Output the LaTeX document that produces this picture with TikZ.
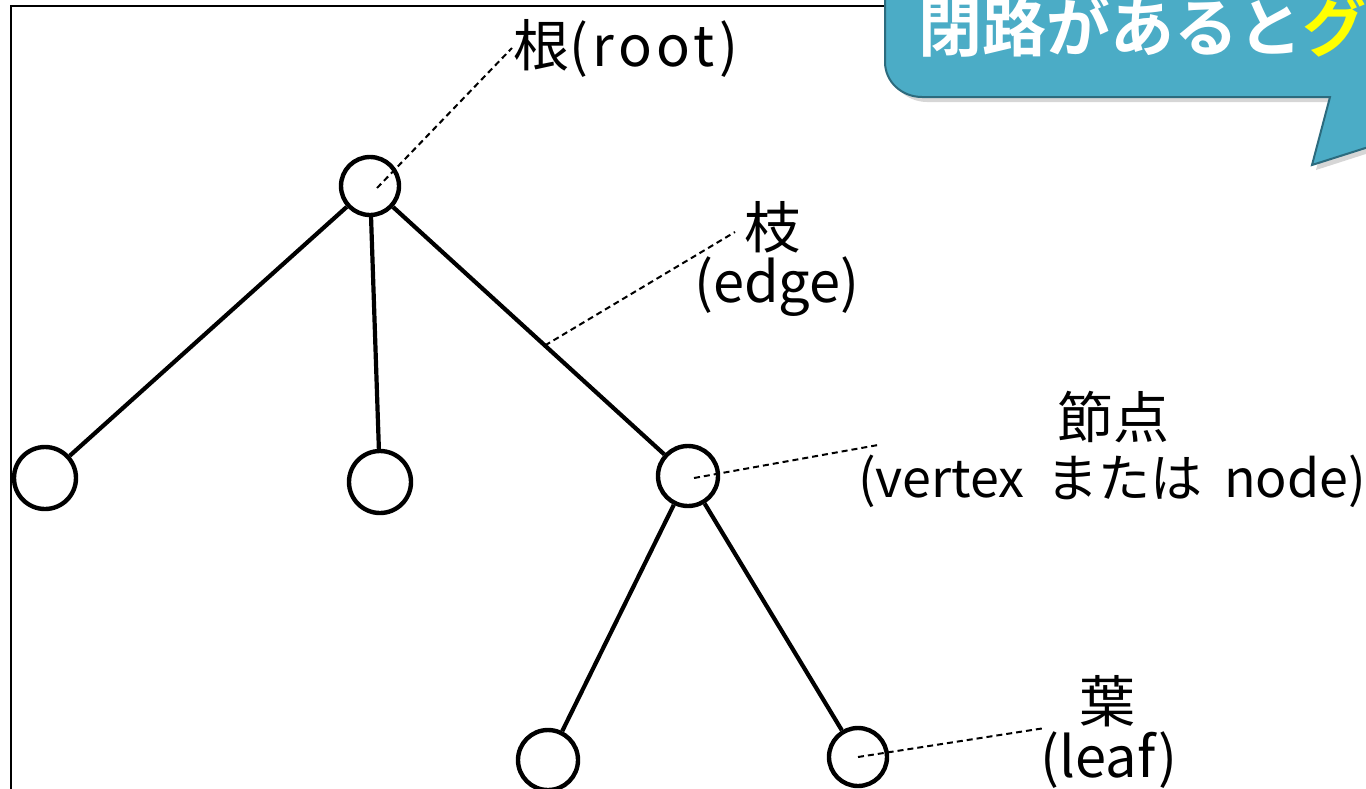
\documentclass[tikz,border=0pt]{standalone}
\usepackage{fontspec}
\setmainfont{Noto Sans CJK JP}
\newfontfamily\cjkbold{Noto Sans CJK JP Bold}
\definecolor{calloutfill}{HTML}{4BACC6}
\definecolor{calloutdraw}{HTML}{2C6B7E}
\definecolor{calloutyellow}{HTML}{FFFF00}
\begin{document}
\begin{tikzpicture}[x=1pt,y=-1pt,
  treenode/.style={circle,draw=black,line width=4.4pt,inner sep=0pt,minimum size=#1},
  treenode/.default=58pt,
  treeedge/.style={line width=4.2pt,black},
  leader/.style={line width=2pt,black,dash pattern=on 6pt off 4pt},
  labeltext/.style={inner sep=0pt,font=\fontsize{56}{60}\selectfont},
  callout/.style={fill=calloutfill,draw=calloutdraw,line width=2pt},
]
\useasboundingbox (0,0) rectangle (1366,788);
% frame
\draw[line width=2.6pt,black] (11,800) -- (11,6) -- (1400,6);
% tree nodes
\node[treenode=58pt] (root) at (370,186) {};
\node[treenode=62pt] (l1) at (45,478) {};
\node[treenode=62pt] (l2) at (380,482) {};
\node[treenode=60pt] (v) at (688,476) {};
\node[treenode=60pt] (b1) at (548,760) {};
\node[treenode=58pt] (b2) at (858,757) {};
% edges
\draw[treeedge] (root) -- (l1);
\draw[treeedge] (root) -- (l2);
\draw[treeedge] (root) -- coordinate[pos=0.56] (eb) (v);
\draw[treeedge] (v) -- (b1);
\draw[treeedge] (v) -- (b2);
% labels
\node[labeltext,anchor=base west] (rootlab) at (513,66) {根{\addfontfeatures{LetterSpace=8}(root)}};
\node[labeltext,anchor=base] (edgelab1) at (772,248) {枝};
\node[labeltext,anchor=base] (edgelab2) at (777,302) {(edge)};
\node[labeltext,anchor=base] (vlab1) at (1113,438) {節点};
\node[labeltext,anchor=base west,font=\fontsize{52}{58}\selectfont] (vlab2) at (858,497) {(vertex\hspace{10pt} または\hspace{10pt} node)};
\node[labeltext,anchor=base] (leaflab1) at (1107,722) {葉};
\node[labeltext,anchor=base] (leaflab2) at (1109,777) {(leaf)};
% leader ends
\coordinate (rootend) at (512,48);
\coordinate (edgeend) at (735,232);
\coordinate (vend) at (878,445);
\coordinate (leafend) at (1045,728);
\draw[leader] ([shift={(7,2)}]root.center) -- (rootend);
\draw[leader] (eb) -- (edgeend);
\draw[leader] ([shift={(6,2)}]v.center) -- (vend);
\draw[leader] (b2.center) -- (leafend);
% callout shadow
\fill[black,opacity=0.16] (889,-60) -- (889,66) .. controls (889,86) and (907,102) .. (927,102) -- (1334,102) -- (1316,170) -- (1400,143) -- (1400,-60) -- cycle;
% callout
\draw[callout] (885,-60) -- (885,62) .. controls (885,82) and (902,97) .. (922,97) -- (1330,97) -- (1312,165) -- (1400,137) -- (1400,-60) -- cycle;
\node[inner sep=0pt,anchor=base west,text=white,font=\cjkbold\fontsize{64}{70}\selectfont] (calltext) at (918,51) {閉路があると\textcolor{calloutyellow}{グ}};
\end{tikzpicture}
\end{document}
